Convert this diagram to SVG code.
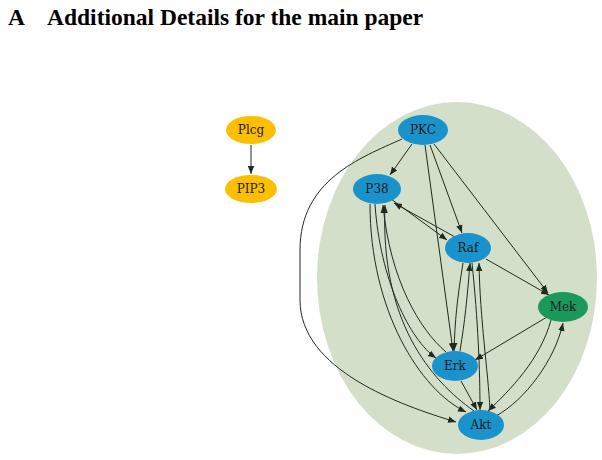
<svg xmlns="http://www.w3.org/2000/svg" width="602" height="460" viewBox="0 0 602 460">
<style>
.t{font-family:"Liberation Serif",serif;font-weight:bold;font-size:23.5px;fill:#000}
.l{font-family:"DejaVu Serif",serif;font-size:12px;fill:#1a1a1a;text-anchor:middle}
.y{fill:#fbbf00}.b{fill:#1a92cc}.g{fill:#1a995b}
.e{fill:none;stroke:#1e2a1e;stroke-width:1;marker-end:url(#a)}
</style>
<defs><marker id="a" viewBox="0 0 10 10" refX="10" refY="5" markerWidth="8" markerHeight="8" markerUnits="userSpaceOnUse" orient="auto"><path d="M0,1L10,5L0,9z" fill="#1e2a1e"/></marker></defs>
<rect width="602" height="460" fill="#fff"/>
<text class="t" x="8" y="25">A</text><text class="t" x="47" y="25">Additional Details for the main paper</text>
<ellipse cx="457" cy="278" rx="140" ry="176" fill="#d4dfca"/>
<g id="connectors">
<path class="e" d="M251,145L251,174"/>
<path class="e" d="M412,144L390,175"/>
<path class="e" d="M430,145L462,233"/>
<path class="e" d="M434,144L548,293"/>
<path class="e" d="M425,145L453,351"/>
<path class="e" d="M402,139C360,158 300,180 300,250L300,300C300,370 400,405 456,422"/>
<path class="e" d="M391,199L447,240"/>
<path class="e" d="M455,237L394,203"/>
<path class="e" d="M375,204C380,280 410,340 436,358"/>
<path class="e" d="M446,352C420,330 390,280 383,205"/>
<path class="e" d="M370,204C370,310 420,390 466,412"/>
<path class="e" d="M474,411C430,380 380,320 385,205"/>
<path class="e" d="M486,259L549,295"/>
<path class="e" d="M463,263C457,300 455,320 454,351"/>
<path class="e" d="M460,351C465,320 467,300 470,263"/>
<path class="e" d="M472,263C478,320 480,370 480,410"/>
<path class="e" d="M490,410C488,370 480,320 479,263"/>
<path class="e" d="M547,317L475,360"/>
<path class="e" d="M551,320C540,360 510,390 488,411"/>
<path class="e" d="M496,416C525,400 555,360 563,323"/>
<path class="e" d="M461,381L477,410"/>
</g>
<g id="Plcg"><ellipse class="y" cx="251" cy="130" rx="25" ry="14"/><text class="l" x="251" y="134">Plcg</text></g>
<g id="PIP3"><ellipse class="y" cx="251" cy="189" rx="26" ry="14"/><text class="l" x="251" y="193">PIP3</text></g>
<g id="PKC"><ellipse class="b" cx="423" cy="130" rx="25" ry="15"/><text class="l" x="423" y="134">PKC</text></g>
<g id="P38"><ellipse class="b" cx="377" cy="189" rx="24" ry="15"/><text class="l" x="377" y="193">P38</text></g>
<g id="Raf"><ellipse class="b" cx="468" cy="248" rx="23" ry="15"/><text class="l" x="468" y="252">Raf</text></g>
<g id="Mek"><ellipse class="g" cx="563" cy="307" rx="25" ry="15"/><text class="l" x="563" y="311">Mek</text></g>
<g id="Erk"><ellipse class="b" cx="455" cy="366" rx="23" ry="15"/><text class="l" x="455" y="370">Erk</text></g>
<g id="Akt"><ellipse class="b" cx="481" cy="425" rx="23" ry="15"/><text class="l" x="481" y="429">Akt</text></g>
</svg>
